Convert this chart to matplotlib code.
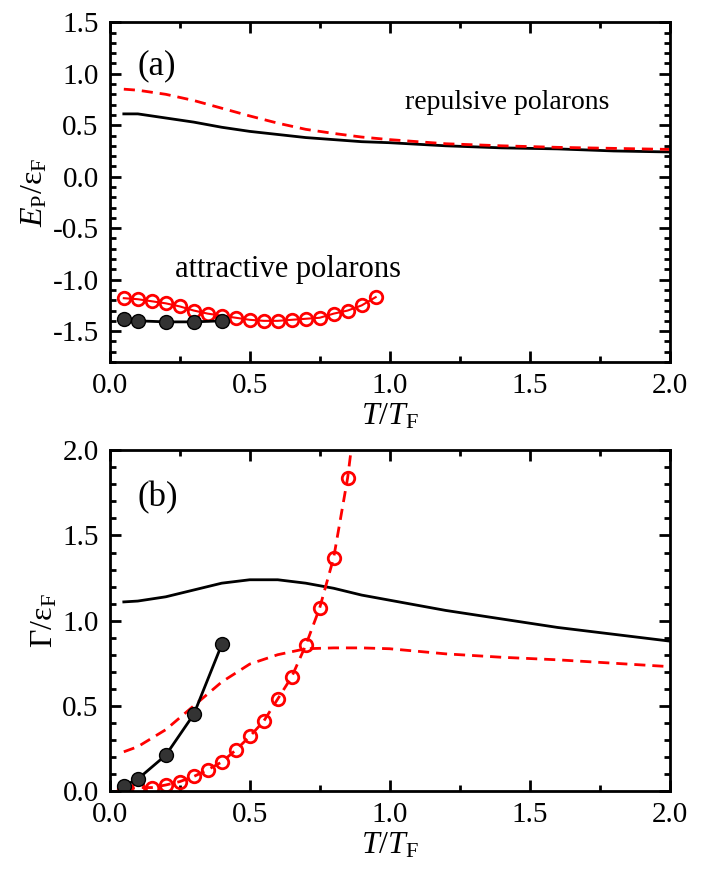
# Polaron energies (a) and decay rates (b) vs temperature
import matplotlib.pyplot as plt
from matplotlib.ticker import MultipleLocator

plt.rcParams['font.family'] = ['Liberation Serif', 'DejaVu Serif']
plt.rcParams['mathtext.fontset'] = 'custom'
plt.rcParams['mathtext.rm'] = 'Liberation Serif'
plt.rcParams['mathtext.it'] = 'Liberation Serif:italic'
plt.rcParams['axes.unicode_minus'] = False

# ---- panel (a): energies ----
t_rep = [0.05, 0.1, 0.2, 0.3, 0.4, 0.5, 0.6, 0.7, 0.8, 0.9, 1.0, 1.2, 1.4, 1.6, 1.8, 2.0]
e_rep_solid = [0.61, 0.61, 0.57, 0.53, 0.48, 0.44, 0.41, 0.38, 0.36, 0.34, 0.33, 0.30, 0.28, 0.27, 0.25, 0.24]
e_rep_dash = [0.85, 0.84, 0.80, 0.74, 0.665, 0.59, 0.52, 0.46, 0.42, 0.385, 0.36, 0.32, 0.30, 0.285, 0.275, 0.265]

t_att_open = [0.05, 0.1, 0.15, 0.2, 0.25, 0.3, 0.35, 0.4, 0.45, 0.5, 0.55, 0.6, 0.65, 0.7, 0.75, 0.8, 0.85, 0.9, 0.95]
e_att_open = [-1.18, -1.19, -1.21, -1.23, -1.26, -1.30, -1.33, -1.35, -1.37, -1.39, -1.40, -1.40, -1.39, -1.38, -1.37, -1.33, -1.30, -1.25, -1.17]

t_att_ball = [0.05, 0.1, 0.2, 0.3, 0.4]
e_att_ball = [-1.38, -1.40, -1.41, -1.41, -1.40]

# ---- panel (b): widths ----
t_w = [0.05, 0.1, 0.2, 0.3, 0.4, 0.5, 0.6, 0.7, 0.8, 0.9, 1.0, 1.2, 1.4, 1.6, 1.8, 2.0]
g_rep_solid = [1.11, 1.115, 1.14, 1.18, 1.22, 1.24, 1.24, 1.22, 1.19, 1.15, 1.12, 1.06, 1.01, 0.96, 0.92, 0.88]
g_rep_dash = [0.23, 0.26, 0.36, 0.50, 0.64, 0.745, 0.80, 0.835, 0.84, 0.84, 0.835, 0.805, 0.785, 0.77, 0.75, 0.73]

t_g_open = [0.05, 0.1, 0.15, 0.2, 0.25, 0.3, 0.35, 0.4, 0.45, 0.5, 0.55, 0.6, 0.65, 0.7, 0.75, 0.8, 0.85, 0.9]
g_open = [0.01, 0.02, 0.02, 0.035, 0.055, 0.085, 0.125, 0.17, 0.24, 0.32, 0.41, 0.54, 0.67, 0.855, 1.075, 1.37, 1.84, 2.5]

t_g_ball = [0.05, 0.1, 0.2, 0.3, 0.4]
g_ball = [0.03, 0.07, 0.21, 0.45, 0.86]

RED = '#ff0000'
TICK_FS = 21
LABEL_FS = 23
DASH = (0, (4, 2.5))

fig = plt.figure(figsize=(7.04, 8.69), dpi=100)
ax1 = fig.add_axes([0.156, 0.5834, 0.795, 0.391])
ax2 = fig.add_axes([0.156, 0.0898, 0.795, 0.392])


def style(ax):
    for s in ax.spines.values():
        s.set_linewidth(2)
    ax.xaxis.set_major_locator(MultipleLocator(0.5))
    ax.xaxis.set_minor_locator(MultipleLocator(0.25))
    ax.yaxis.set_major_locator(MultipleLocator(0.5))
    ax.yaxis.set_minor_locator(MultipleLocator(0.1))
    ax.tick_params(which='both', direction='in', top=True, right=True, width=2)
    ax.tick_params(which='major', length=8, labelsize=TICK_FS, pad=8)
    ax.tick_params(which='minor', length=4)
    ax.set_xlim(0, 2.0)
    ax.set_xlabel(r'$T/T_{\rm F}$', fontsize=LABEL_FS, labelpad=2)


# panel (a)
ax1.plot(t_rep, e_rep_solid, color='black', lw=2)
ax1.plot(t_rep, e_rep_dash, color=RED, lw=2, ls=DASH)
ax1.plot(t_att_open, e_att_open, color=RED, lw=1.5, marker='o', ms=9, mfc='none',
         mec=RED, mew=2)
ax1.plot(t_att_ball, e_att_ball, color='black', lw=2, marker='o', ms=10, mfc='#333333',
         mec='black', mew=1)
ax1.set_ylim(-1.8, 1.5)
style(ax1)
ax1.set_ylabel(r'$E_{\rm P}/\mathrm{ε}_{\rm F}$', fontsize=LABEL_FS, labelpad=2)
ax1.text(0.1, 1.08, '(a)', fontsize=25, va='center')
ax1.text(1.054, 0.72, 'repulsive polarons', fontsize=20, va='center')
ax1.text(0.232, -0.90, 'attractive polarons', fontsize=22, va='center')

# panel (b)
ax2.plot(t_w, g_rep_solid, color='black', lw=2)
ax2.plot(t_w, g_rep_dash, color=RED, lw=2, ls=DASH)
ax2.plot(t_g_open, g_open, color=RED, lw=2, ls=DASH, marker='o', ms=9,
         mfc='none', mec=RED, mew=2, markevery=list(range(len(t_g_open) - 1)))
ax2.plot(t_g_ball, g_ball, color='black', lw=2, marker='o', ms=10, mfc='#333333',
         mec='black', mew=1)
ax2.set_ylim(0, 2.0)
style(ax2)
ax2.set_ylabel(r'$\Gamma/\mathrm{ε}_{\rm F}$', fontsize=LABEL_FS, labelpad=2)
ax2.text(0.1, 1.72, '(b)', fontsize=25, va='center')

fig.savefig('out.png', dpi=100)
